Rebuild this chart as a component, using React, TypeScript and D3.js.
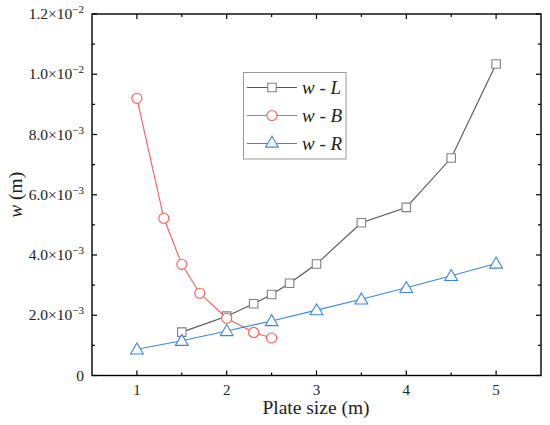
import React from "react";
import * as d3 from "d3";

const W = 550;
const H = 425;

// series data
const xL = [1.5, 2, 2.3, 2.5, 2.7, 3, 3.5, 4, 4.5, 5];
const yL = [1.44e-3, 1.97e-3, 2.38e-3, 2.69e-3, 3.06e-3, 3.7e-3, 5.07e-3, 5.58e-3, 7.22e-3, 1.034e-2];

const xB = [1, 1.3, 1.5, 1.7, 2, 2.3, 2.5];
const yB = [9.2e-3, 5.22e-3, 3.69e-3, 2.73e-3, 1.9e-3, 1.43e-3, 1.245e-3];

const xR = [1, 1.5, 2, 2.5, 3, 3.5, 4, 4.5, 5];
const yR = [0.87e-3, 1.155e-3, 1.48e-3, 1.81e-3, 2.17e-3, 2.53e-3, 2.91e-3, 3.31e-3, 3.72e-3];

const xTicks = [1, 2, 3, 4, 5];
const xMinor = [1.5, 2.5, 3.5, 4.5];
const yTicks = [0, 2e-3, 4e-3, 6e-3, 8e-3, 1e-2, 1.2e-2];
const yTickMant = ["0", "2.0", "4.0", "6.0", "8.0", "1.0", "1.2"];
const yTickExp = ["", "−3", "−3", "−3", "−3", "−2", "−2"];
const yMinor = [1e-3, 3e-3, 5e-3, 7e-3, 9e-3, 1.1e-2];

const series = [
  { name: "L", xs: xL, ys: yL, line: "#555555", mark: "#808080", symbol: d3.symbolSquare },
  { name: "B", xs: xB, ys: yB, line: "#ff5a5a", mark: "#ff5a5a", symbol: d3.symbolCircle },
  { name: "R", xs: xR, ys: yR, line: "#3a86e8", mark: "#3a86e8", symbol: d3.symbolTriangle },
];

const font = "'Liberation Serif', 'Times New Roman', serif";

const App = () => {
  const m = { left: 92, right: 541, top: 14, bottom: 375.5 };
  const x = d3.scaleLinear().domain([0.5, 5.5]).range([m.left, m.right]);
  const y = d3.scaleLinear().domain([0, 1.2e-2]).range([m.bottom, m.top]);

  const line = d3
    .line<[number, number]>()
    .x((d) => x(d[0]))
    .y((d) => y(d[1]));

  const symSize = (s: any) => (s === d3.symbolTriangle ? 70 : s === d3.symbolSquare ? 72 : 80);
  const sym = (s: any) => d3.symbol().type(s).size(symSize(s))() as string;

  const major = 5;
  const minor = 3;

  return (
    <svg width={W} height={H} style={{ position: "absolute", left: 0, top: 0, background: "#fff" }}>
      <rect x={0} y={0} width={W} height={H} fill="#fff" />
      {/* series */}
      {series.map((s) => {
        const pts = s.xs.map((v, i) => [v, s.ys[i]] as [number, number]);
        return (
          <g key={s.name}>
            <path d={line(pts) as string} fill="none" stroke={s.line} strokeWidth={1.1} />
            {pts.map((p, i) => (
              <path
                key={i}
                d={sym(s.symbol)}
                transform={`translate(${x(p[0])},${y(p[1]) + (s.symbol === d3.symbolTriangle ? 1 : 0)})`}
                fill="#fff"
                stroke={s.mark}
                strokeWidth={1.1}
              />
            ))}
          </g>
        );
      })}

      {/* frame */}
      <rect
        x={m.left}
        y={m.top}
        width={m.right - m.left}
        height={m.bottom - m.top}
        fill="none"
        stroke="#000"
        strokeWidth={1.4}
      />

      {/* x ticks */}
      {xTicks.map((t) => (
        <g key={"xt" + t}>
          <line x1={x(t)} x2={x(t)} y1={m.bottom} y2={m.bottom - major} stroke="#000" strokeWidth={1.2} />
          <line x1={x(t)} x2={x(t)} y1={m.top} y2={m.top + major} stroke="#000" strokeWidth={1.2} />
          <text x={x(t)} y={m.bottom + 19.5} textAnchor="middle" fontFamily={font} fontSize={15} fill="#222">
            {t}
          </text>
        </g>
      ))}
      {xMinor.map((t) => (
        <g key={"xm" + t}>
          <line x1={x(t)} x2={x(t)} y1={m.bottom} y2={m.bottom - minor} stroke="#000" strokeWidth={1.2} />
          <line x1={x(t)} x2={x(t)} y1={m.top} y2={m.top + minor} stroke="#000" strokeWidth={1.2} />
        </g>
      ))}

      {/* y ticks */}
      {yTicks.map((t, i) => (
        <g key={"yt" + t}>
          <line x1={m.left} x2={m.left + major} y1={y(t)} y2={y(t)} stroke="#000" strokeWidth={1.2} />
          <line x1={m.right} x2={m.right - major} y1={y(t)} y2={y(t)} stroke="#000" strokeWidth={1.2} />
          <text x={m.left - 8} y={y(t) + 5} textAnchor="end" fontFamily={font} fontSize={15.5} fill="#222">
            {yTickExp[i] ? (
              <>
                {yTickMant[i] + "×10"}
                <tspan dy={-6} fontSize={11}>
                  {yTickExp[i]}
                </tspan>
              </>
            ) : (
              yTickMant[i]
            )}
          </text>
        </g>
      ))}
      {yMinor.map((t) => (
        <g key={"ym" + t}>
          <line x1={m.left} x2={m.left + minor} y1={y(t)} y2={y(t)} stroke="#000" strokeWidth={1.2} />
          <line x1={m.right} x2={m.right - minor} y1={y(t)} y2={y(t)} stroke="#000" strokeWidth={1.2} />
        </g>
      ))}

      {/* axis titles */}
      <text x={316} y={414} textAnchor="middle" fontFamily={font} fontSize={19.5} fill="#222">
        Plate size (m)
      </text>
      <text
        transform={`translate(22,${(m.top + m.bottom) / 2})rotate(-90)`}
        textAnchor="middle"
        fontFamily={font}
        fontSize={19.5}
        fill="#222"
      >
        <tspan fontStyle="italic">w</tspan> (m)
      </text>

      {/* legend */}
      <g>
        <rect x={243.5} y={72.5} width={102.5} height={86.5} fill="#fff" stroke="#999" strokeWidth={1} />
        {series.map((s, i) => {
          const ly = 87.5 + i * 28;
          return (
            <g key={"lg" + s.name}>
              <line x1={247} x2={297} y1={ly} y2={ly} stroke={s.line} strokeWidth={1.1} />
              <path
                d={sym(s.symbol)}
                transform={`translate(272,${ly})`}
                fill="#fff"
                stroke={s.mark}
                strokeWidth={1.1}
              />
              <text x={302} y={ly + 6} fontFamily={font} fontSize={19} fontStyle="italic" fill="#222">
                {"w - " + s.name}
              </text>
            </g>
          );
        })}
      </g>
    </svg>
  );
};

export default App;
